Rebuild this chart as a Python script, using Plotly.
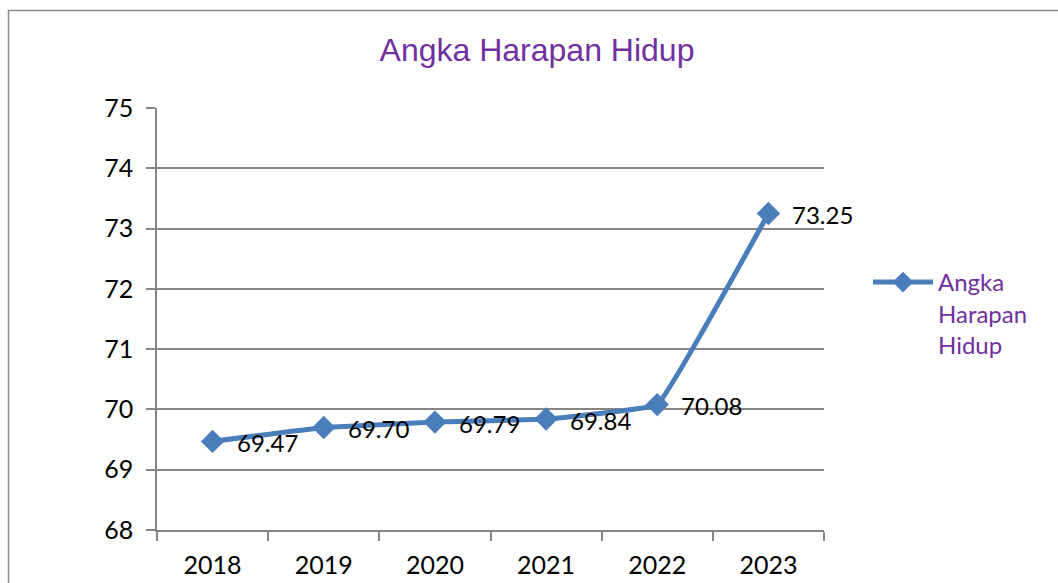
import plotly.graph_objects as go

years = ["2018", "2019", "2020", "2021", "2022", "2023"]
values = [69.47, 69.70, 69.79, 69.84, 70.08, 73.25]
labels = ["69.47", "69.70", "69.79", "69.84", "70.08", "73.25"]
y_ticks = [68, 69, 70, 71, 72, 73, 74, 75]

W, H = 1058, 583
L, R, T, B = 157, W - 824, 108, H - 530
pw = W - L - R
ph = H - T - B

def px_x(x):
    return (x - L) / pw

def px_y(y):
    return (H - B - y) / ph

blue = "#4A7EBB"
purple = "#7030A0"
grid = "#868686"
font_lbl = "Lato, 'Noto Sans', sans-serif"

fig = go.Figure()
fig.add_trace(go.Scatter(
    x=years, y=values,
    mode="lines+markers",
    name="Angka<br>Harapan<br>Hidup",
    line=dict(color=blue, width=5, shape="spline", smoothing=0.2),
    marker=dict(symbol="diamond", size=18, color=blue),
    cliponaxis=False,
))

# category axis: annotation x given as category index
for i, (yv, t) in enumerate(zip(values, labels)):
    fig.add_annotation(x=i, y=yv, text=t, showarrow=False,
                       xanchor="left", yanchor="middle", xshift=22, yshift=-1,
                       font=dict(size=24, color="black", family=font_lbl))

fig.update_layout(
    width=W, height=H,
    margin=dict(l=L, r=R, t=T, b=B, autoexpand=False),
    paper_bgcolor="white", plot_bgcolor="white",
    title=dict(text="Angka Harapan Hidup", xref="container", x=537 / W,
               xanchor="center", yref="container", y=1 - 50 / H, yanchor="middle",
               font=dict(family="'Liberation Sans', Arial, sans-serif", size=32, color=purple)),
    showlegend=True,
    legend=dict(x=px_x(868), xanchor="left", y=px_y(260), yanchor="top",
                valign="top",
                font=dict(family=font_lbl, size=24, color=purple),
                bgcolor="rgba(0,0,0,0)", itemwidth=60),
    xaxis=dict(type="category", range=[-0.5, 5.5], tickson="boundaries",
               ticks="outside", ticklen=9, tickcolor=grid, tickwidth=1.5,
               showline=True, linecolor=grid, linewidth=1.5, showgrid=False,
               tickfont=dict(family=font_lbl, size=25, color="black"),
               ticklabelstandoff=12, automargin=False, fixedrange=True),
    yaxis=dict(range=[68, 75], tickvals=y_ticks, ticks="outside", ticklen=9,
               tickcolor=grid, tickwidth=1.5, showline=True, linecolor=grid,
               linewidth=1.5, showgrid=True, gridcolor=grid, gridwidth=1.5,
               zeroline=False,
               tickfont=dict(family=font_lbl, size=25, color="black"),
               ticklabelstandoff=8, automargin=False, fixedrange=True),
    shapes=[dict(type="rect", xref="paper", yref="paper",
                 x0=px_x(8.5), x1=px_x(1080), y0=px_y(600), y1=px_y(10.5),
                 line=dict(color="#8C8C8C", width=1.5), layer="below")],
)

fig.write_html("out.html", config={"displayModeBar": False},
               post_script="document.body.style.margin='0';")
